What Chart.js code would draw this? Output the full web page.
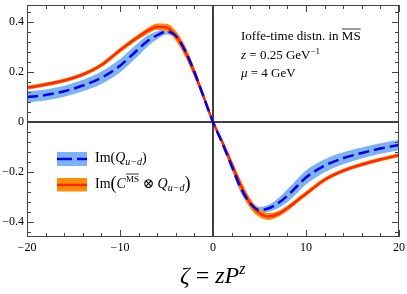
<!DOCTYPE html>
<html>
<head>
<meta charset="utf-8">
<script src="https://cdn.jsdelivr.net/npm/chart.js@4.4.0/dist/chart.umd.min.js"></script>
<style>
  html, body { margin: 0; padding: 0; background: #fff; }
  #wrap { width: 407px; height: 294px; }
</style>
</head>
<body>
<div id="wrap"><canvas id="itdChart" width="407" height="294"></canvas></div>
<script>
// values
const zeta = [-20, -18, -16, -14, -12, -10, -9, -8, -7, -6, -5, -4, -3, -2, -1, 0,
  1, 2, 3, 4, 5, 6, 7, 8, 9, 10, 12, 14, 16, 18, 20];
const imQ = [0.100, 0.108, 0.123, 0.146, 0.177, 0.225, 0.258, 0.292, 0.325, 0.347, 0.362, 0.345, 0.285, 0.200, 0.100, 0,
  -0.085, -0.175, -0.265, -0.325, -0.352, -0.345, -0.325, -0.295, -0.258, -0.222, -0.175, -0.145, -0.124, -0.106, -0.092];
const imQErr = [0.022, 0.022, 0.022, 0.023, 0.025, 0.027, 0.027, 0.026, 0.022, 0.016, 0.012, 0.013, 0.018, 0.017, 0.010, 0.004,
  0.010, 0.018, 0.020, 0.016, 0.012, 0.014, 0.020, 0.026, 0.028, 0.028, 0.026, 0.024, 0.022, 0.021, 0.021];
const imCQ = [0.137, 0.150, 0.166, 0.190, 0.228, 0.287, 0.315, 0.341, 0.365, 0.381, 0.378, 0.345, 0.283, 0.197, 0.100, 0,
  -0.080, -0.168, -0.255, -0.325, -0.365, -0.378, -0.368, -0.345, -0.316, -0.287, -0.231, -0.195, -0.170, -0.150, -0.133];
const imCQErr = [0.008, 0.008, 0.008, 0.008, 0.009, 0.010, 0.010, 0.011, 0.012, 0.013, 0.015, 0.020, 0.022, 0.018, 0.010, 0.003,
  0.010, 0.018, 0.022, 0.020, 0.016, 0.014, 0.012, 0.011, 0.010, 0.010, 0.009, 0.008, 0.008, 0.008, 0.008];
const xTicks = [-20, -10, 0, 10, 20];
const yTicks = [-0.4, -0.2, 0, 0.2, 0.4];
const xMinor = 2;
const yMinor = 0.04;

const BLUE_BAND = "rgb(125,178,245)";
const BLUE_LINE = "rgb(0,0,235)";
const ORANGE_BAND = "rgb(255,140,10)";
const RED_LINE = "rgb(255,40,0)";
const SERIF = "'Liberation Serif', 'DejaVu Serif', serif";

const pts = (arr, err, sign) => zeta.map((x, i) => ({ x: x, y: arr[i] + sign * (err ? err[i] : 0) }));

const lineOpts = { pointRadius: 0, cubicInterpolationMode: "monotone" };

// draw a run of text pieces left to right
function drawRuns(ctx, x, y, runs) {
  runs.forEach((r) => {
    ctx.font = r.font;
    const w = ctx.measureText(r.t).width;
    ctx.fillText(r.t, x + (r.dx || 0), y + (r.dy || 0));
    if (r.over) {
      ctx.beginPath();
      ctx.lineWidth = 0.8;
      ctx.moveTo(x + (r.dx || 0), y + (r.dy || 0) - r.over);
      ctx.lineTo(x + (r.dx || 0) + w, y + (r.dy || 0) - r.over);
      ctx.stroke();
    }
    x += w + (r.dx || 0);
  });
  return x;
}

const decor = {
  id: "decor",
  beforeDatasetsDraw(chart) {
    const { ctx, chartArea: a, scales } = chart;
    const x0 = scales.x.getPixelForValue(0);
    const y0 = scales.y.getPixelForValue(0);
    ctx.save();
    ctx.strokeStyle = "#000";
    ctx.lineWidth = 1.5;
    ctx.beginPath();
    ctx.moveTo(a.left, y0); ctx.lineTo(a.right, y0);
    ctx.moveTo(x0, a.top); ctx.lineTo(x0, a.bottom);
    ctx.stroke();
    ctx.restore();
  },
  afterDraw(chart) {
    const { ctx, chartArea: a, scales } = chart;
    const xs = scales.x, ys = scales.y;
    ctx.save();
    // frame
    ctx.strokeStyle = "#444";
    ctx.lineWidth = 1;
    ctx.strokeRect(a.left + 0.5, a.top + 0.5, a.right - a.left - 1, a.bottom - a.top - 1);
    // inward ticks
    ctx.beginPath();
    for (let v = xs.min; v <= xs.max + 1e-9; v += xMinor) {
      const p = Math.round(xs.getPixelForValue(v)) + 0.5;
      const len = xTicks.some((t) => Math.abs(t - v) < 1e-6) ? 7 : 4;
      ctx.moveTo(p, a.bottom); ctx.lineTo(p, a.bottom - len);
      ctx.moveTo(p, a.top); ctx.lineTo(p, a.top + len);
    }
    for (let k = -11; k <= 11; k++) {
      const v = k * yMinor;
      if (v < ys.min || v > ys.max) continue;
      const p = Math.round(ys.getPixelForValue(v)) + 0.5;
      const len = yTicks.some((t) => Math.abs(t - v) < 1e-6) ? 7 : 4;
      ctx.moveTo(a.left, p); ctx.lineTo(a.left + len, p);
      ctx.moveTo(a.right, p); ctx.lineTo(a.right - len, p);
    }
    ctx.stroke();

    ctx.fillStyle = "#000";
    ctx.strokeStyle = "#000";
    ctx.textBaseline = "alphabetic";
    ctx.textAlign = "left";

    // info box text
    drawRuns(ctx, 241, 40, [
      { t: "Ioffe-time distn. in ", font: "13px " + SERIF },
      { t: "MS", font: "13px " + SERIF, over: 11 },
    ]);
    drawRuns(ctx, 241, 58.5, [
      { t: "z", font: "italic 13px " + SERIF },
      { t: " = 0.25 GeV", font: "13px " + SERIF },
      { t: "\u22121", font: "9px " + SERIF, dy: -5 },
    ]);
    drawRuns(ctx, 241, 77, [
      { t: "\u03bc", font: "italic 13px " + SERIF },
      { t: " = 4 GeV", font: "13px " + SERIF },
    ]);

    // legend
    ctx.fillStyle = BLUE_BAND;
    ctx.fillRect(57, 152, 30, 14);
    ctx.strokeStyle = BLUE_LINE;
    ctx.lineWidth = 2.5;
    ctx.beginPath();
    ctx.moveTo(57, 159); ctx.lineTo(72, 159);
    ctx.moveTo(77, 159); ctx.lineTo(87, 159);
    ctx.stroke();
    ctx.fillStyle = ORANGE_BAND;
    ctx.fillRect(57, 178, 30, 13.5);
    ctx.strokeStyle = RED_LINE;
    ctx.beginPath();
    ctx.moveTo(57, 185); ctx.lineTo(87, 185);
    ctx.stroke();

    ctx.fillStyle = "#000";
    ctx.strokeStyle = "#000";
    drawRuns(ctx, 95, 162, [
      { t: "Im(", font: "14px " + SERIF },
      { t: "Q", font: "italic 14px " + SERIF },
      { t: "u\u2212d", font: "italic 10px " + SERIF, dy: 3 },
      { t: ")", font: "14px " + SERIF },
    ]);
    drawRuns(ctx, 95, 188, [
      { t: "Im", font: "14px " + SERIF },
      { t: "(", font: "18px " + SERIF, dy: 1 },
      { t: "C", font: "italic 14px " + SERIF },
      { t: "MS", font: "9px " + SERIF, dy: -6, over: 8 },
      { t: " \u2297 ", font: "14px " + SERIF },
      { t: "Q", font: "italic 14px " + SERIF },
      { t: "u\u2212d", font: "italic 10px " + SERIF, dy: 3 },
      { t: ")", font: "18px " + SERIF, dy: 1 },
    ]);

    // x axis title
    drawRuns(ctx, 180, 283, [
      { t: "\u03b6", font: "italic 24px " + SERIF },
      { t: " = ", font: "24px " + SERIF },
      { t: "zP", font: "italic 24px " + SERIF },
      { t: "z", font: "italic 16px " + SERIF, dy: -9 },
    ]);
    ctx.restore();
  },
};

new Chart(document.getElementById("itdChart").getContext("2d"), {
  type: "line",
  data: {
    datasets: [
      { data: pts(imQ, imQErr, -1), borderWidth: 0, borderColor: BLUE_BAND, fill: false, order: 6, ...lineOpts },
      { data: pts(imQ, imQErr, 1), borderWidth: 0, borderColor: BLUE_BAND, backgroundColor: BLUE_BAND, fill: "-1", order: 5, ...lineOpts },
      { data: pts(imCQ, imCQErr, -1), borderWidth: 0, borderColor: ORANGE_BAND, fill: false, order: 4, ...lineOpts },
      { data: pts(imCQ, imCQErr, 1), borderWidth: 0, borderColor: ORANGE_BAND, backgroundColor: ORANGE_BAND, fill: "-1", order: 3, ...lineOpts },
      { data: pts(imCQ, null, 0), borderWidth: 2.5, borderColor: RED_LINE, fill: false, order: 2, ...lineOpts },
      { data: pts(imQ, null, 0), borderWidth: 2.5, borderColor: BLUE_LINE, borderDash: [11, 5], fill: false, order: 1, ...lineOpts },
    ],
  },
  options: {
    responsive: false,
    animation: false,
    events: [],
    layout: { padding: { top: 5, right: 8, left: 0, bottom: 0 } },
    plugins: { legend: { display: false }, tooltip: { enabled: false } },
    scales: {
      x: {
        type: "linear",
        min: -20,
        max: 20,
        afterBuildTicks: (s) => { s.ticks = xTicks.map((v) => ({ value: v })); },
        afterFit: (s) => { s.height = 57; s.paddingLeft = 0; s.paddingRight = 0; },
        grid: { display: false, drawTicks: false },
        border: { display: false },
        ticks: {
          padding: 4,
          color: "#000",
          font: { family: SERIF, size: 12 },
          maxRotation: 0,
          callback: (v) => (v < 0 ? "\u2212" + Math.abs(v) : String(v)),
        },
      },
      y: {
        type: "linear",
        min: -0.46,
        max: 0.468,
        afterBuildTicks: (s) => { s.ticks = yTicks.map((v) => ({ value: v })); },
        afterFit: (s) => { s.width = 27; s.paddingTop = 0; s.paddingBottom = 0; },
        grid: { display: false, drawTicks: false },
        border: { display: false },
        ticks: {
          padding: 3,
          color: "#000",
          font: { family: SERIF, size: 12 },
          callback: (v) => {
            const r = Math.round(v * 10) / 10;
            return r < 0 ? "\u2212" + Math.abs(r) : String(r);
          },
        },
      },
    },
  },
  plugins: [decor],
});
</script>
</body>
</html>
